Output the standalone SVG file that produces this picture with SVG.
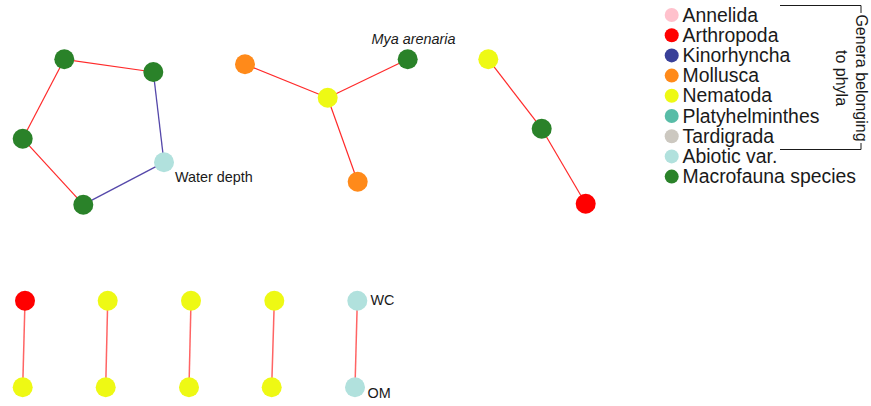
<svg xmlns="http://www.w3.org/2000/svg" width="871" height="406" viewBox="0 0 871 406">
<style>
text{font-family:"Liberation Sans",Arial,sans-serif;fill:#1a1a1a}
.lbl{font-size:14.4px}
.leg{font-size:19.4px}
.brk{font-size:16px}
.er{stroke:#ff2a2a;stroke-width:1.2;fill:none}
.el{stroke:#ff3030;stroke-width:1.5;stroke-opacity:0.75;fill:none}
.eb{stroke:#5548aa;stroke-width:1.3;fill:none}
.n{stroke:none}
.mac{fill:#2a8229}.nem{fill:#eef914}.mol{fill:#ff8a1a}.art{fill:#ff0000}.abi{fill:#b1e1dd}
.ann{fill:#ffc1cc}.kin{fill:#394098}.pla{fill:#58bca7}.tar{fill:#ccc8c0}
</style>
<rect width="871" height="406" fill="#ffffff"/>
<g id="connectors">
<line class="er" x1="64.3" y1="59.3" x2="153.3" y2="72"/>
<line class="er" x1="64.3" y1="59.3" x2="22.7" y2="138.7"/>
<line class="er" x1="22.7" y1="138.7" x2="83.3" y2="204.7"/>
<line class="eb" x1="153.3" y1="72" x2="164" y2="162.3"/>
<line class="eb" x1="164" y1="162.3" x2="83.3" y2="204.7"/>
<line class="er" x1="245" y1="64.3" x2="327.7" y2="97.7"/>
<line class="er" x1="327.7" y1="97.7" x2="407.7" y2="59.3"/>
<line class="er" x1="327.7" y1="97.7" x2="357.7" y2="181.7"/>
<line class="er" x1="488.3" y1="59.3" x2="541.7" y2="128.7"/>
<line class="er" x1="541.7" y1="128.7" x2="585.7" y2="203.7"/>
<line class="el" x1="25" y1="300.7" x2="22.7" y2="387.3"/>
<line class="el" x1="107.7" y1="300.7" x2="105.7" y2="387.3"/>
<line class="el" x1="191" y1="300.7" x2="189" y2="387.3"/>
<line class="el" x1="274.3" y1="300.7" x2="271.7" y2="387.3"/>
<line class="el" x1="357.3" y1="300.7" x2="355" y2="387.3"/>
</g>
<g id="n1"><circle class="n mac" cx="64.3" cy="59.3" r="10"/></g>
<g id="n2"><circle class="n mac" cx="153.3" cy="72" r="10"/></g>
<g id="n3"><circle class="n mac" cx="22.7" cy="138.7" r="10"/></g>
<g id="n4"><circle class="n mac" cx="83.3" cy="204.7" r="10"/></g>
<g id="n5"><circle class="n abi" cx="164" cy="162.3" r="10"/><text class="lbl" x="175" y="182">Water depth</text></g>
<g id="n6"><circle class="n mol" cx="245" cy="64.3" r="10"/></g>
<g id="n7"><circle class="n nem" cx="327.7" cy="97.7" r="10"/></g>
<g id="n8"><circle class="n mac" cx="407.7" cy="59.3" r="10"/><text class="lbl" x="371.5" y="43.5" font-style="italic">Mya arenaria</text></g>
<g id="n9"><circle class="n mol" cx="357.7" cy="181.7" r="10"/></g>
<g id="n10"><circle class="n nem" cx="488.3" cy="59.3" r="10"/></g>
<g id="n11"><circle class="n mac" cx="541.7" cy="128.7" r="10"/></g>
<g id="n12"><circle class="n art" cx="585.7" cy="203.7" r="10"/></g>
<g id="n13"><circle class="n art" cx="25" cy="300.7" r="10"/></g>
<g id="n14"><circle class="n nem" cx="22.7" cy="387.3" r="10"/></g>
<g id="n15"><circle class="n nem" cx="107.7" cy="300.7" r="10"/></g>
<g id="n16"><circle class="n nem" cx="105.7" cy="387.3" r="10"/></g>
<g id="n17"><circle class="n nem" cx="191" cy="300.7" r="10"/></g>
<g id="n18"><circle class="n nem" cx="189" cy="387.3" r="10"/></g>
<g id="n19"><circle class="n nem" cx="274.3" cy="300.7" r="10"/></g>
<g id="n20"><circle class="n nem" cx="271.7" cy="387.3" r="10"/></g>
<g id="n21"><circle class="n abi" cx="357.3" cy="300.7" r="10"/><text class="lbl" x="370.5" y="305">WC</text></g>
<g id="n22"><circle class="n abi" cx="355" cy="387.3" r="10"/><text class="lbl" x="367.5" y="397.5">OM</text></g>
<g id="legend">
<circle class="n ann" cx="671.7" cy="15" r="7"/><text class="leg" x="682.5" y="21.6">Annelida</text>
<circle class="n art" cx="671.7" cy="35.2" r="7"/><text class="leg" x="682.5" y="41.8">Arthropoda</text>
<circle class="n kin" cx="671.7" cy="55.4" r="7"/><text class="leg" x="682.5" y="62">Kinorhyncha</text>
<circle class="n mol" cx="671.7" cy="75.6" r="7"/><text class="leg" x="682.5" y="82.2">Mollusca</text>
<circle class="n nem" cx="671.7" cy="95.8" r="7"/><text class="leg" x="682.5" y="102.4">Nematoda</text>
<circle class="n pla" cx="671.7" cy="116" r="7"/><text class="leg" x="682.5" y="122.6">Platyhelminthes</text>
<circle class="n tar" cx="671.7" cy="136.2" r="7"/><text class="leg" x="682.5" y="142.8">Tardigrada</text>
<circle class="n abi" cx="671.7" cy="156.4" r="7"/><text class="leg" x="682.5" y="163">Abiotic var.</text>
<circle class="n mac" cx="671.7" cy="176.6" r="7"/><text class="leg" x="682.5" y="183.2">Macrofauna species</text>
<path d="M780 5.5H861V13M861 143V149.5H780" fill="none" stroke="#1a1a1a" stroke-width="1"/>
<text class="brk" text-anchor="middle" transform="translate(855.5,78) rotate(90)">Genera belonging</text>
<text class="brk" text-anchor="middle" transform="translate(836,78) rotate(90)">to phyla</text>
</g>
</svg>
